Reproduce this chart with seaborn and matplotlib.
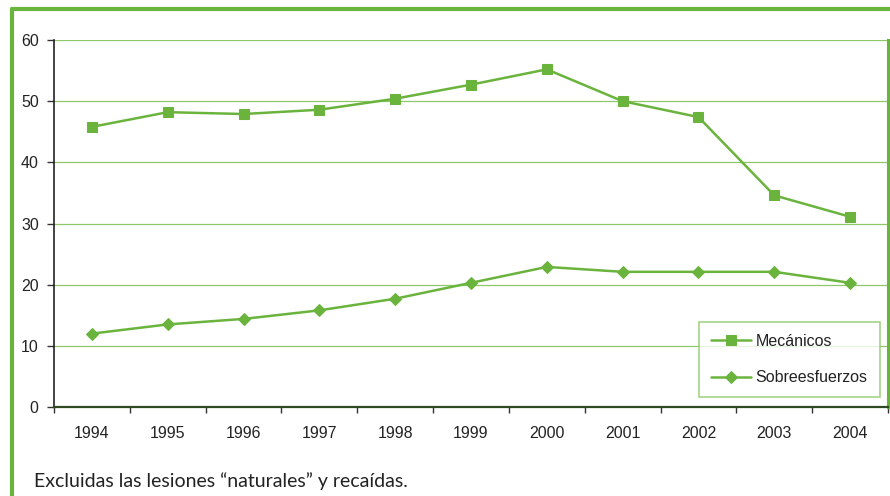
import matplotlib
matplotlib.use("Agg")
import matplotlib.pyplot as plt
import numpy as np
import pandas as pd
import seaborn as sns
from matplotlib.lines import Line2D

years = ["1994", "1995", "1996", "1997", "1998", "1999", "2000", "2001", "2002", "2003", "2004"]
mecanicos = [45.8, 48.2, 47.9, 48.6, 50.4, 52.7, 55.2, 50.0, 47.4, 34.6, 31.1]
sobreesfuerzos = [12.0, 13.5, 14.4, 15.8, 17.7, 20.3, 22.9, 22.1, 22.1, 22.1, 20.3]
y_ticks = [0, 10, 20, 30, 40, 50, 60]
caption = "Excluidas las lesiones \u201cnaturales\u201d y recaídas."

GREEN = "#6ab43e"
GRID = "#8fc86a"
DARK = "#2f4a22"

sns.set_style("white")
plt.rcParams["font.family"] = ["Liberation Sans", "DejaVu Sans"]

fig = plt.figure(figsize=(8.90, 4.96), dpi=100)
ax = fig.add_axes([54 / 890, 89 / 496, 834 / 890, 367 / 496])

df = pd.DataFrame({"year": years, "Mecánicos": mecanicos, "Sobreesfuerzos": sobreesfuerzos})
sns.lineplot(data=df, x="year", y="Mecánicos", marker="s", markersize=7.5, color=GREEN,
             linewidth=1.8, markeredgecolor=GREEN, label="Mecánicos", ax=ax)
sns.lineplot(data=df, x="year", y="Sobreesfuerzos", marker="D", markersize=6.5, color=GREEN,
             linewidth=1.8, markeredgecolor=GREEN, label="Sobreesfuerzos", ax=ax)

ax.set_xlim(-0.5, len(years) - 0.5)
ax.set_ylim(0, 60)
ax.set_xticks(range(len(years)))
ax.set_xticklabels(years)
ax.set_xticks(np.arange(-0.5, len(years)), minor=True)
ax.set_yticks(y_ticks)
ax.set_xlabel("")
ax.set_ylabel("")

ax.tick_params(axis="x", which="major", length=0, pad=14, labelsize=11.5, labelcolor="#222222")
ax.tick_params(axis="x", which="minor", length=4, width=1, color="#333333", direction="out", bottom=True)
ax.tick_params(axis="y", which="major", length=5, width=1, color="#333333", direction="out", left=True,
               pad=6, labelsize=11.5, labelcolor="#222222")

for y in y_ticks[1:]:
    ax.axhline(y, color=GRID, linewidth=0.9, zorder=0)

ax.spines["top"].set_visible(False)
ax.spines["left"].set_color("#222222")
ax.spines["left"].set_linewidth(1.2)
ax.spines["bottom"].set_color(DARK)
ax.spines["bottom"].set_linewidth(1.6)
ax.spines["right"].set_color(GREEN)
ax.spines["right"].set_linewidth(2.2)

leg = ax.legend(loc="lower right", bbox_to_anchor=(0.99, 0.027), frameon=True, fancybox=False,
                edgecolor=GRID, fontsize=11.5, handlelength=2.5, labelspacing=1.35,
                borderpad=0.75, handletextpad=0.3, borderaxespad=0)
leg.get_frame().set_linewidth(1.2)
for t in leg.get_texts():
    t.set_color("#222222")

# outer frame
fig.add_artist(Line2D([12 / 890, 12 / 890], [0, 1 - 9 / 496], color=GREEN, linewidth=3, transform=fig.transFigure))
fig.add_artist(Line2D([12 / 890, 1], [1 - 9 / 496, 1 - 9 / 496], color=GREEN, linewidth=3, transform=fig.transFigure))

fig.text(34 / 890, 9 / 496, caption, fontsize=14, color="#222222", family=["Lato", "DejaVu Sans"],
         ha="left", va="baseline")

fig.savefig("out.png", dpi=100)
